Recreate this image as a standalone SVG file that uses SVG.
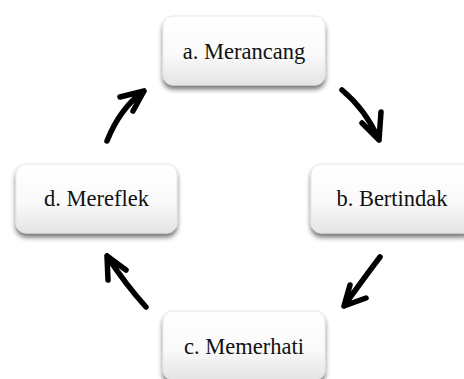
<svg xmlns="http://www.w3.org/2000/svg" width="464" height="379" viewBox="0 0 464 379">
<defs>
<linearGradient id="g" x1="0" y1="0" x2="0" y2="1">
<stop offset="0" stop-color="#ffffff"/>
<stop offset="0.55" stop-color="#fafafa"/>
<stop offset="1" stop-color="#e4e4e4"/>
</linearGradient>
<filter id="sh" x="-20%" y="-20%" width="140%" height="160%">
<feGaussianBlur in="SourceAlpha" stdDeviation="2.5"/>
<feOffset dx="0" dy="4" result="b"/>
<feComponentTransfer><feFuncA type="linear" slope="0.55"/></feComponentTransfer>
<feMerge><feMergeNode/><feMergeNode in="SourceGraphic"/></feMerge>
</filter>
</defs>
<style>
.box{fill:url(#g);stroke:#e2e2e2;stroke-width:0.8;filter:url(#sh)}
.t{font-family:"Liberation Serif","Times New Roman",serif;font-size:22.5px;fill:#111;text-anchor:middle}
.a{fill:none;stroke:#000;stroke-width:5.5;stroke-linecap:round;stroke-linejoin:round}
</style>
<rect width="464" height="379" fill="#fff"/>
<g id="node-a"><rect class="box" x="163" y="16" width="162" height="69" rx="10"/><text class="t" x="244" y="59">a. Merancang</text></g>
<g id="node-b"><rect class="box" x="311" y="164" width="162" height="69" rx="10"/><text class="t" x="392" y="206">b. Bertindak</text></g>
<g id="node-c"><rect class="box" x="163" y="311" width="162" height="69" rx="10"/><text class="t" x="244" y="354">c. Memerhati</text></g>
<g id="node-d"><rect class="box" x="16" y="164" width="161" height="69" rx="10"/><text class="t" x="96.5" y="206">d. Mereflek</text></g>
<g id="connectors">
<path class="a" d="M342,90 Q366,110 379,140 M362,123 L379,140 L381,112"/>
<path class="a" d="M380,257 Q364,278 344,306 M350,285 L344,306 L366,298"/>
<path class="a" d="M146,307 Q126,285 107,256 M126,270 L107,256 L108,280"/>
<path class="a" d="M107,141 Q120,108 144,91 M120,97 L144,91 L133,111"/>
</g>
</svg>
